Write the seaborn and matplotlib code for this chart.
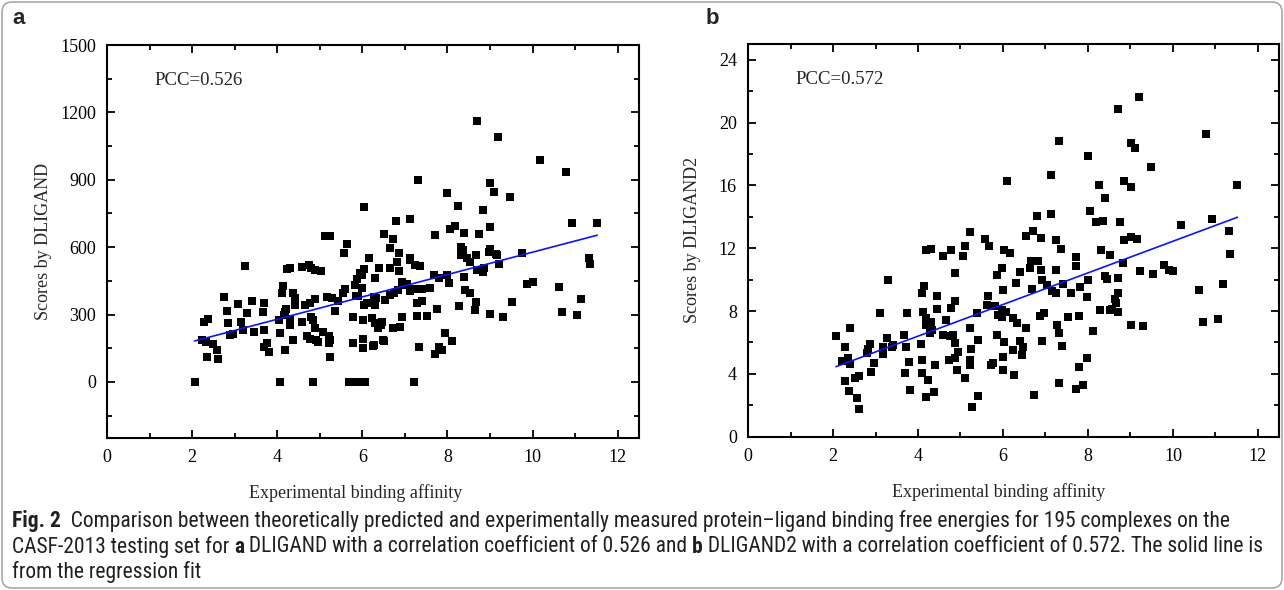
import matplotlib
matplotlib.use('Agg')
import matplotlib.pyplot as plt
from matplotlib.patches import FancyBboxPatch
from matplotlib.transforms import IdentityTransform
from matplotlib.ticker import MultipleLocator
import pandas as pd
import seaborn as sns

# (experimental affinity, DLIGAND score)
dligand_points = [
    (2.06, 0), (2.27, 267), (2.38, 282), (2.23, 186), (2.33, 178), (2.50, 167), (2.58, 144), (2.35, 111), (2.60, 102), (2.76, 379),
    (2.82, 316), (2.84, 260), (2.89, 208), (2.97, 211), (3.09, 346), (3.15, 267), (3.19, 233), (3.29, 305), (3.25, 515),
    (3.40, 361), (3.46, 221), (3.66, 312), (3.70, 349), (3.70, 230), (3.68, 156), (3.76, 171), (3.80, 132),
    (4.07, 0), (4.84, 0), (4.07, 218), (4.05, 275), (4.11, 394), (4.13, 426), (4.19, 312), (4.21, 323), (4.19, 144), (4.23, 501),
    (4.31, 505), (4.31, 253), (4.37, 397), (4.42, 372), (4.38, 186), (4.58, 510), (4.74, 520), (4.79, 505), (4.89, 498), (5.04, 495),
    (4.58, 267), (4.66, 342), (4.70, 204), (4.76, 193), (4.79, 290), (4.84, 275), (4.89, 367), (4.89, 238), (4.92, 186), (4.97, 178),
    (4.42, 342), (4.15, 297), (4.31, 278), (4.78, 349),
    (5.69, 0), (5.87, 0), (5.13, 649), (5.23, 649), (5.65, 614), (5.58, 572), (5.08, 223), (5.21, 204), (5.23, 186), (5.21, 171),
    (5.25, 109), (5.17, 379), (5.29, 372), (5.42, 360), (5.36, 316), (5.60, 412), (5.55, 394), (5.77, 290), (5.77, 171), (5.87, 460),
    (5.84, 431), (5.95, 483), (5.85, 383), (5.91, 382),
    (6.07, 0), (6.03, 777), (6.16, 550), (6.52, 658), (6.72, 634), (6.64, 594), (6.87, 575), (6.40, 508), (6.64, 508), (6.82, 535),
    (6.87, 493), (6.03, 501), (6.00, 478), (6.31, 463), (6.00, 419), (6.03, 342), (6.11, 349), (6.33, 372), (6.31, 342), (6.54, 364),
    (6.66, 386), (6.74, 397), (6.85, 409), (6.93, 446), (6.02, 275), (6.02, 193), (6.02, 153), (6.25, 159), (6.23, 283), (6.31, 260),
    (6.44, 253), (6.46, 267), (6.72, 242), (6.89, 245), (6.93, 290), (6.51, 181), (6.27, 164), (6.80, 718), (6.97, 431), (6.27, 379),
    (6.49, 186), (6.38, 238),
    (7.21, 0), (7.11, 725), (7.13, 542), (7.25, 520), (7.36, 516), (7.11, 405), (7.25, 412), (7.40, 412), (7.58, 416), (7.29, 349),
    (7.40, 360), (7.76, 323), (7.29, 294), (7.52, 294), (7.33, 156), (7.72, 122), (7.80, 156), (7.88, 141), (7.95, 218), (7.68, 475),
    (7.80, 461), (7.99, 475), (7.31, 899), (7.99, 840), (7.70, 654), (7.11, 550), (7.04, 435),
    (8.11, 183), (8.03, 441), (8.27, 337), (8.40, 468), (8.42, 409), (8.54, 397), (8.68, 357), (8.66, 320), (8.31, 565), (8.46, 550),
    (8.54, 535), (8.68, 565), (8.70, 498), (8.86, 505), (8.84, 490), (8.97, 579), (8.70, 1163), (8.24, 784), (8.84, 765), (8.05, 679),
    (8.19, 694), (8.40, 661), (8.74, 658), (8.31, 599), (8.37, 587),
    (9.17, 565), (9.21, 527), (9.01, 302), (9.31, 290), (9.52, 357), (9.76, 572), (9.87, 435), (10.02, 446), (10.62, 423), (10.70, 309),
    (11.05, 300), (11.15, 368), (11.33, 550), (11.35, 524), (9.18, 1089), (10.17, 988), (10.78, 933), (9.00, 884), (9.09, 844), (9.47, 822),
    (9.00, 691), (10.92, 706), (11.52, 709), (9.00, 590), (9.13, 569),
]

# (experimental affinity, DLIGAND2 score)
dligand2_points = [
    (2.07, 6.38), (2.40, 6.95), (2.28, 5.74), (2.20, 4.83), (2.36, 5.04), (2.40, 4.62), (2.28, 3.57), (2.38, 2.93), (2.52, 3.72), (2.60, 3.87),
    (2.56, 2.45), (2.62, 1.75), (2.79, 5.36), (2.87, 5.89), (2.83, 5.57), (2.89, 4.15), (2.97, 4.68),
    (3.11, 7.87), (3.18, 5.74), (3.18, 5.27), (3.29, 9.95), (3.28, 6.27), (3.42, 5.85), (3.38, 5.74), (3.68, 6.49), (3.71, 5.74),
    (3.73, 7.87), (3.79, 4.78), (3.69, 4.04), (3.81, 2.98),
    (4.06, 5.91), (4.09, 4.89), (4.09, 4.04), (4.23, 3.62), (4.19, 2.55), (4.38, 2.87), (4.40, 4.57), (4.10, 9.14), (4.15, 9.57), (4.12, 7.97),
    (4.20, 7.55), (4.18, 7.12), (4.32, 6.80), (4.31, 7.33), (4.20, 11.91), (4.31, 11.95), (4.60, 11.48), (4.78, 11.91), (4.44, 8.93), (4.44, 8.12),
    (4.87, 10.42), (4.87, 8.61), (4.78, 8.18), (4.67, 7.40), (4.60, 6.49), (4.75, 6.42), (4.83, 6.49), (4.87, 5.96), (4.95, 5.42), (4.87, 5.00),
    (4.72, 4.89), (4.92, 4.25), (4.28, 6.63),
    (5.22, 13.01), (5.58, 12.59), (5.67, 12.16), (5.11, 12.12), (5.07, 11.52), (5.11, 3.72), (5.22, 6.91), (5.24, 5.57), (5.22, 4.89), (5.22, 4.57),
    (5.42, 6.17), (5.26, 1.91), (5.42, 2.62), (5.38, 7.87), (5.65, 8.97), (5.62, 8.40), (5.81, 8.34), (5.97, 8.08), (5.89, 7.76), (5.85, 6.49),
    (5.72, 4.57), (5.77, 4.68), (5.97, 10.74), (5.85, 10.31), (5.97, 7.65),
    (6.09, 16.26), (6.03, 11.86), (6.16, 11.70), (6.54, 12.76), (6.71, 13.07), (6.89, 12.65), (6.81, 14.07), (6.66, 11.20), (6.83, 11.20), (6.64, 10.74),
    (6.89, 10.63), (6.40, 10.48), (6.01, 9.36), (6.31, 9.78), (6.68, 9.42), (6.93, 9.95), (6.07, 7.97), (6.24, 7.55), (6.32, 7.27), (6.54, 6.91),
    (6.02, 6.06), (6.40, 6.10), (6.24, 5.53), (6.48, 5.74), (6.44, 5.21), (6.00, 5.10), (6.00, 4.25), (6.27, 3.94), (6.73, 2.66), (6.91, 6.12),
    (6.86, 7.70), (6.96, 7.87),
    (7.03, 9.67), (7.32, 18.82), (7.12, 16.69), (7.12, 14.18), (7.26, 12.54), (7.36, 11.97), (7.72, 11.42), (7.72, 10.84), (7.25, 10.63), (7.15, 9.25),
    (7.26, 9.15), (7.42, 9.74), (7.60, 9.15), (7.81, 9.53), (7.97, 8.89), (8.00, 9.97), (7.27, 7.12), (7.32, 6.59), (7.40, 5.78), (7.54, 7.65),
    (7.79, 7.70), (7.97, 5.00), (7.79, 4.43), (7.32, 3.44), (7.89, 3.30), (7.72, 3.04),
    (8.70, 20.84), (8.01, 17.90), (8.26, 16.01), (8.85, 16.31), (8.40, 15.20), (8.05, 14.35), (8.19, 13.65), (8.36, 13.71), (8.75, 13.67), (8.31, 11.91),
    (8.52, 11.59), (8.85, 12.50), (8.41, 10.20), (8.45, 10.04), (8.71, 10.10), (8.83, 11.06), (8.71, 9.18), (8.64, 8.76), (8.66, 8.51), (8.57, 8.12),
    (8.71, 7.91), (8.28, 8.04), (8.52, 8.04), (8.12, 6.76),
    (9.21, 21.62), (10.79, 19.29), (9.01, 18.67), (9.11, 18.39), (9.48, 17.16), (9.01, 15.90), (11.52, 16.01), (10.18, 13.46), (10.93, 13.88), (11.33, 13.07),
    (11.34, 11.63), (9.01, 12.72), (9.15, 12.59), (9.22, 10.52), (9.52, 10.38), (9.78, 10.95), (9.90, 10.63), (10.01, 10.52), (10.62, 9.36), (11.17, 9.72),
    (10.70, 7.33), (11.07, 7.51), (9.01, 7.12), (9.30, 7.08),
]

x_ticks = [0, 2, 4, 6, 8, 10, 12]
y_ticks_a = [0, 300, 600, 900, 1200, 1500]
y_ticks_b = [0, 4, 8, 12, 16, 20, 24]
x_label = 'Experimental binding affinity'

caption_lines = [
    [('Fig. 2', True), ('  Comparison between theoretically predicted and experimentally measured protein\u2013ligand binding free energies for 195 complexes on the', False)],
    [('CASF-2013 testing set for ', False), ('a', True), (' DLIGAND with a correlation coefficient of 0.526 and ', False), ('b', True),
     (' DLIGAND2 with a correlation coefficient of 0.572. The solid line is', False)],
    [('from the regression fit', False)],
]

sns.set_style('ticks')
plt.rcParams['font.family'] = ['Liberation Serif', 'DejaVu Serif']
caption_font = ['Liberation Sans Narrow', 'Roboto Condensed', 'Liberation Sans', 'DejaVu Sans']

fig = plt.figure(figsize=(12.84, 5.90), dpi=100)
ax_a = fig.add_axes([0.0833, 0.2576, 0.4143, 0.6661])
ax_b = fig.add_axes([0.5826, 0.2598, 0.4136, 0.6656])


def draw_panel(ax, points, ylim, yticks, yminor, ylabel, pcc, ylab_x, xlab_x):
    df = pd.DataFrame(points, columns=['affinity', 'score'])
    sns.scatterplot(data=df, x='affinity', y='score', marker='s', s=40, color='black',
                    linewidth=0, ax=ax, zorder=2)
    sns.regplot(data=df, x='affinity', y='score', scatter=False, ci=None, truncate=True,
                color='#0a14ff', line_kws={'lw': 1.2, 'zorder': 3}, ax=ax)
    ax.set_xlim(0, 12.5)
    ax.set_ylim(*ylim)
    ax.set_xticks(x_ticks)
    ax.set_yticks(yticks)
    ax.xaxis.set_minor_locator(MultipleLocator(1))
    ax.yaxis.set_minor_locator(MultipleLocator(yminor))
    ax.tick_params(which='both', direction='in', top=True, right=True, width=1.3, colors='black')
    ax.tick_params(which='major', length=6, labelsize=13, pad=8)
    ax.tick_params(which='minor', length=3.5)
    for sp in ax.spines.values():
        sp.set_linewidth(1.5)
        sp.set_color('black')
    ax.set_xlabel(x_label, fontsize=13)
    ax.set_ylabel(ylabel, fontsize=13)
    ax.xaxis.label.set_va('center')
    ax.yaxis.label.set_va('center')
    ax.xaxis.set_label_coords(xlab_x, -0.14)
    ax.yaxis.set_label_coords(ylab_x, 0.5)
    ax.text(0.09, 0.91, pcc, transform=ax.transAxes, fontsize=13.5, va='center', ha='left')


draw_panel(ax_a, dligand_points, (-250, 1500), y_ticks_a, 150, 'Scores by DLIGAND', 'PCC=0.526', -0.12, 0.468)
draw_panel(ax_b, dligand2_points, (0, 25), y_ticks_b, 2, 'Scores by DLIGAND2', 'PCC=0.572', -0.104, 0.471)

fig.text(12 / 1284, 1 - 24 / 590, 'a', fontsize=16, fontweight='bold', family='Liberation Sans', va='baseline')
fig.text(706 / 1284, 1 - 24 / 590, 'b', fontsize=16, fontweight='bold', family='Liberation Sans', va='baseline')

# caption, drawn piece by piece so bold words sit inline
renderer = fig.canvas.get_renderer()


def line_width(pieces, size):
    total = 0
    for txt, bold in pieces:
        t = fig.text(0, 0, txt, fontsize=size, family=caption_font,
                     fontweight='bold' if bold else 'normal')
        total += t.get_window_extent(renderer).width
        t.remove()
    return total


# size the caption so the longest line spans the frame like in the reference
cap_size = 14.0
for _ in range(4):
    widest = max(line_width(caption_lines[0], cap_size), line_width(caption_lines[1], cap_size))
    cap_size *= 1252 / widest

line_y = [521, 547, 572]
for pieces, yy in zip(caption_lines, line_y):
    x = 12 / 1284
    for txt, bold in pieces:
        t = fig.text(x, 1 - yy / 590, txt, fontsize=cap_size, family=caption_font, color='#231f20',
                     fontweight='bold' if bold else 'normal', va='center', ha='left')
        x += t.get_window_extent(renderer).width / fig.bbox.width

frame = FancyBboxPatch((2, 2), 1280, 586, boxstyle='round,pad=0,rounding_size=10',
                       transform=IdentityTransform(), fc='none', ec='#a8a8a8', lw=1.2)
fig.patches.append(frame)

fig.savefig('out.png', dpi=100)
